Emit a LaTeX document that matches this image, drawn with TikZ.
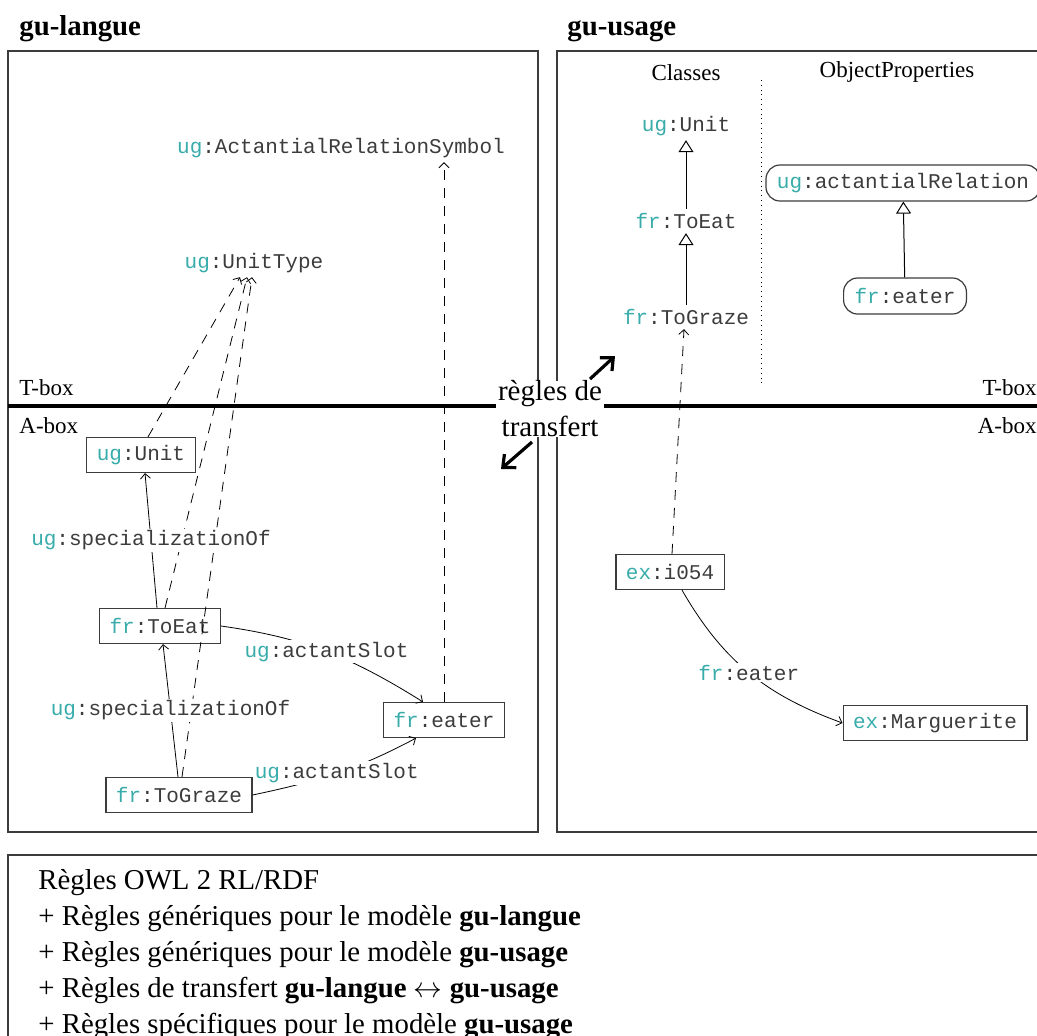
\documentclass[tikz,border=0pt]{standalone}
\usepackage{fontspec}
\setmainfont{Liberation Serif}
\setmonofont{Liberation Mono}
\usetikzlibrary{shapes,arrows,arrows.meta}
\usetikzlibrary{positioning}
\definecolor{prefix}{RGB}{56,172,170}
\definecolor{frame}{RGB}{60,60,60}
\definecolor{ink}{RGB}{60,60,60}
\newcommand{\qn}[2]{\textcolor{prefix}{#1}:#2}
\tikzstyle{term} = [font=\fontsize{10.5}{12}\ttfamily, text=ink, inner sep=2pt]
\tikzstyle{inst} = [term, rectangle, draw=frame, line width=0.6pt,
    inner xsep=5pt, minimum height=17.5pt]
\tikzstyle{prop} = [term, rectangle, rounded corners=7pt, draw=frame,
    line width=0.6pt, inner xsep=5.5pt, minimum height=18pt]
\tikzstyle{rel} = [term, fill=white, inner sep=1pt]
\tikzstyle{panel} = [draw=frame, line width=0.6pt]
\tikzstyle{title} = [font=\fontsize{14.4}{16}\selectfont\bfseries, inner sep=0pt]
\tikzstyle{boxlabel} = [font=\fontsize{11.5}{13}\selectfont, inner sep=0pt]
\tikzstyle{rule} = [font=\fontsize{14.4}{17}\selectfont, inner sep=0pt]
\tikzstyle{line} = [draw, line width=0.4pt, -{Straight Barb[length=2.5pt,width=5pt]}]
\tikzstyle{typeof} = [line, dash pattern=on 5pt off 4pt]
\tikzstyle{subclass} = [draw, line width=0.5pt, -{Triangle[open,length=6pt,width=7.5pt]}]
\tikzstyle{bigarrow} = [draw, line width=1.6pt, -{Straight Barb[length=5pt,width=9pt]}]

\begin{document}
\begin{tikzpicture}[x=0.5pt, y=-0.5pt]
  \clip (0,0) rectangle (1037,1035);
  \useasboundingbox (0,0) rectangle (1037,1035);

  % Frames
  \draw [panel] (8,51) rectangle (538,832);
  \draw [panel] (557,51) rectangle (1050,832);
  \draw [panel] (8,855) rectangle (1050,1050);
  \draw [line width=2pt] (8,406) -- (1050,406);
  \draw [dotted] (761,80) -- (761,387);

  \node [title, anchor=base west] (langue) at (19,35) {gu-langue};
  \node [title, anchor=base west] (usage) at (567,35) {gu-usage};
  \node [boxlabel, anchor=base west] (ltbox) at (19,395) {T-box};
  \node [boxlabel, anchor=base west] (labox) at (19,433) {A-box};
  \node [boxlabel, anchor=base east] (rtbox) at (1037,395) {T-box};
  \node [boxlabel, anchor=base east] (rabox) at (1037,433) {A-box};

  % gu-langue
  \node [term] (ars) at (341,148) {\qn{ug}{ActantialRelationSymbol}};
  \node [term] (utype) at (254,263) {\qn{ug}{UnitType}};
  \node [inst] (unit) at (141,455) {\qn{ug}{Unit}};
  \node [inst] (toeat) at (160,626) {\qn{fr}{ToEat}};
  \node [inst] (tograze) at (179,795) {\qn{fr}{ToGraze}};
  \node [inst] (eater) at (444,720) {\qn{fr}{eater}};

  % gu-usage
  \node [boxlabel] (classes) at (686,73) {Classes};
  \node [boxlabel] (objprops) at (897,72) {ObjectProperties};
  \node [term] (cunit) at (686,126) {\qn{ug}{Unit}};
  \node [term, below of=cunit, node distance=47.5pt] (ctoeat) {\qn{fr}{ToEat}};
  \node [term, below of=ctoeat, node distance=48pt] (ctograze) {\qn{fr}{ToGraze}};
  \node [prop] (arel) at (903,183) {\qn{ug}{actantialRelation}};
  \node [prop] (peater) at (905,296) {\qn{fr}{eater}};
  \node [inst] (i054) at (670,572) {\qn{ex}{i054}};
  \node [inst] (marg) at (935,723) {\qn{ex}{Marguerite}};

  % rdf:type
  \path [typeof] ([xshift=3.5pt]unit.north) -- ([xshift=-7pt]utype.south);
  \path [typeof] ([xshift=2.5pt]toeat.north) -- ([xshift=-3.5pt]utype.south);
  \path [typeof] ([xshift=1.5pt]tograze.north) -- ([xshift=-1pt]utype.south);
  \path [typeof] (eater.north) -- (eater.north |- ars.south);
  \path [typeof] ([xshift=1pt]i054.north) -- ([xshift=-1pt]ctograze.south);

  % A-box relations
  \path [line] ([xshift=-1.5pt]toeat.north) -- node [rel] {\qn{ug}{specializationOf}}
    ([xshift=2pt]unit.south);
  \path [line] ([xshift=-0.5pt]tograze.north) -- node [rel] {\qn{ug}{specializationOf}}
    ([xshift=1.5pt]toeat.south);
  \path [line] (toeat.east) to [out=-8, in=148] node [rel] {\qn{ug}{actantSlot}}
    ([xshift=-10.5pt]eater.north);
  \path [line] (tograze.east) to [out=12, in=-152] node [rel] {\qn{ug}{actantSlot}}
    ([xshift=-14pt]eater.south);
  \path [line] ([xshift=6pt]i054.south) to [out=-60, in=160] node [rel] {\qn{fr}{eater}}
    (marg.west);

  % T-box hierarchy
  \path [subclass] (ctoeat) -- (cunit);
  \path [subclass] (ctograze) -- (ctoeat);
  \path [subclass] (peater) -- (arel);

  % transfer
  \node [font=\fontsize{14.5}{18}\selectfont, align=center, fill=white,
    inner xsep=1pt, inner ysep=0pt] (transfer) at (550,409) {règles de\\transfert};
  \coordinate (upfrom) at (590,379);
  \coordinate (upto) at (615,356);
  \coordinate (dnfrom) at (532,442);
  \coordinate (dnto) at (501,469);
  \path [bigarrow] (upfrom) -- (upto);
  \path [bigarrow] (dnfrom) -- (dnto);

  % rules
  \node [rule, anchor=base west] (r1) at (38,889) {Règles OWL 2 RL/RDF};
  \node [rule, anchor=base west] (r2) at (38,925) {+ Règles génériques pour le modèle \textbf{gu-langue}};
  \node [rule, anchor=base west] (r3) at (38,961) {+ Règles génériques pour le modèle \textbf{gu-usage}};
  \node [rule, anchor=base west] (r4) at (38,997) {+ Règles de transfert \textbf{gu-langue} $\leftrightarrow$ \textbf{gu-usage}};
  \node [rule, anchor=base west] (r5) at (38,1033) {+ Règles spécifiques pour le modèle \textbf{gu-usage}};
\end{tikzpicture}
\end{document}
